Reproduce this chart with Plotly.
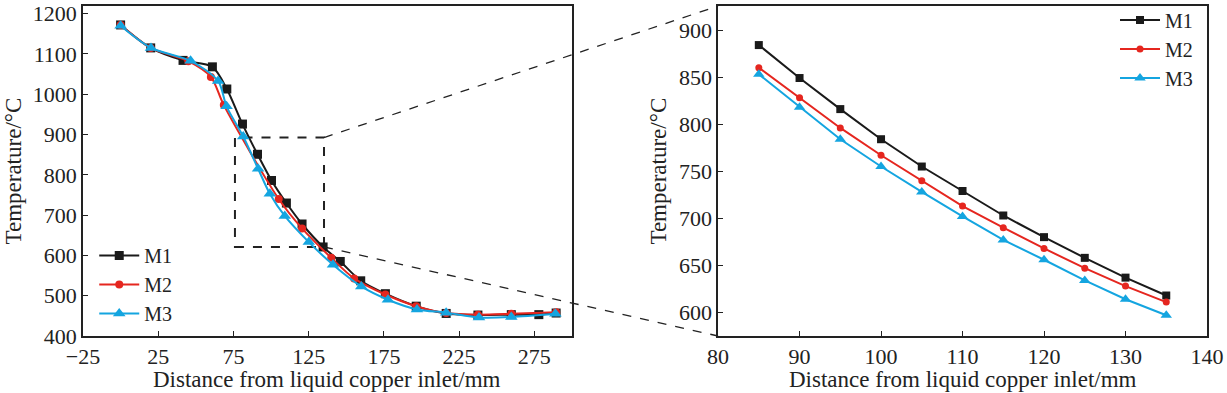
import plotly.graph_objects as go

# ---------------- data: left panel (full profile) ----------------
m1_x = [0, 20, 41.5, 61, 70.6, 81, 91, 100.3, 110.2, 120.6, 134.6, 146, 159.6, 176, 196.5, 216.4, 237.5, 259.7, 278, 289.5]
m1_y = [1172, 1115, 1084, 1068, 1013, 926, 851, 786, 730, 678, 621, 585, 537, 505, 474, 456, 452, 453, 453, 457]

m2_x = [0, 20, 45, 60, 68.6, 105.1, 120.6, 140, 155.2, 176, 196.5, 216.4, 237.5, 259.7, 289.5]
m2_y = [1172, 1115, 1082, 1043, 973, 740, 667, 594, 543, 503, 474, 457, 453, 455, 459]

m3_x = [0, 20.2, 46.5, 64.8, 70.4, 81.5, 91.4, 99.2, 109.1, 125.1, 141.2, 160, 177.7, 197, 216.4, 238.2, 259.7, 289]
m3_y = [1170, 1115, 1083, 1033, 970, 895, 815, 753, 698, 633, 577, 523, 490, 466, 458, 446, 447, 455]

# ---------------- data: right panel (zoomed 85-135 mm) ----------------
zoom_x = [85, 90, 95, 100, 105, 110, 115, 120, 125, 130, 135]
z_m1 = [884, 849, 816, 784, 755, 729, 703, 680, 658, 637, 618]
z_m2 = [860, 828, 796, 767, 740, 713, 690, 668, 647, 628, 611]
z_m3 = [853, 818, 784, 755, 728, 702, 677, 656, 634, 614, 597]

series_names = ["M1", "M2", "M3"]
colors = ["#1a1a1a", "#e5261f", "#14a5e0"]
symbols = ["square", "circle", "triangle-up"]
msizes = [9, 8, 11]

# zoom window (in left-panel data coords)
box_x = [76, 135.2]
box_y = [620.9, 892.5]

# axis settings
left_xrange = [-25, 300]
left_yrange = [400, 1219]
right_xrange = [80, 140]
right_yrange = [575, 925.5]
left_dom = [0, 0.435]
right_dom = [0.565, 1]

FONT = "Liberation Serif"
TXT = "#222222"
X_TITLE = "Distance from liquid copper inlet/mm"
Y_TITLE = "Temperature/\u00b0C"

fig = go.Figure()

left_sets = [(m1_x, m1_y), (m2_x, m2_y), (m3_x, m3_y)]
for i, (xs, ys) in enumerate(left_sets):
    fig.add_trace(go.Scatter(
        x=xs, y=ys, name=series_names[i], mode="lines+markers",
        line=dict(color=colors[i], width=2, shape="spline", smoothing=0.8),
        marker=dict(symbol=symbols[i], size=msizes[i], color=colors[i]),
        xaxis="x", yaxis="y", legend="legend"))

right_sets = [z_m1, z_m2, z_m3]
for i, ys in enumerate(right_sets):
    fig.add_trace(go.Scatter(
        x=zoom_x, y=ys, name=series_names[i], mode="lines+markers",
        line=dict(color=colors[i], width=2),
        marker=dict(symbol=symbols[i], size=msizes[i] - 1, color=colors[i]),
        xaxis="x2", yaxis="y2", legend="legend2"))

axis_common = dict(
    showline=True, linecolor="#222", linewidth=1.5, mirror=True,
    ticks="inside", ticklen=5, tickwidth=1.2, tickcolor="#222",
    showgrid=False, zeroline=False, automargin=False,
    ticklabeloverflow="allow",
    tickfont=dict(family=FONT, size=22, color=TXT),
)

fig.update_layout(
    width=1227, height=393,
    margin=dict(l=83, r=20, t=6, b=57, autoexpand=False),
    paper_bgcolor="white", plot_bgcolor="white",
    xaxis=dict(domain=left_dom, range=left_xrange, tick0=-25, dtick=50,
               anchor="y", **axis_common),
    yaxis=dict(range=left_yrange, tick0=400, dtick=100,
               anchor="x", **axis_common),
    xaxis2=dict(domain=right_dom, range=right_xrange, tick0=80, dtick=10,
                anchor="y2", **axis_common),
    yaxis2=dict(range=right_yrange, tick0=600, dtick=50,
                anchor="x2", **axis_common),
    legend=dict(x=0.01, y=0.303, xanchor="left", yanchor="top",
                font=dict(family=FONT, size=20, color=TXT),
                bgcolor="rgba(0,0,0,0)", itemwidth=40, tracegroupgap=0),
    legend2=dict(x=0.992, y=1.017, xanchor="right", yanchor="top",
                 font=dict(family=FONT, size=20, color=TXT),
                 bgcolor="rgba(0,0,0,0)", itemwidth=40, tracegroupgap=0),
    showlegend=True,
)

title_font = dict(family=FONT, size=23, color=TXT)
for dom, yshift_left in ((left_dom, -56), (right_dom, -46)):
    fig.add_annotation(text=X_TITLE, xref="paper", yref="paper",
                       x=(dom[0] + dom[1]) / 2, y=0, xanchor="center", yanchor="top",
                       yshift=-29, showarrow=False, font=title_font)
    fig.add_annotation(text=Y_TITLE, xref="paper", yref="paper",
                       x=dom[0], y=0.5, xanchor="right", yanchor="middle",
                       xshift=yshift_left, showarrow=False,
                       textangle=-90, font=title_font)

# dashed zoom box in the left panel
fig.add_shape(type="rect", xref="x", yref="y",
              x0=box_x[0], x1=box_x[1], y0=box_y[0], y1=box_y[1],
              line=dict(color="#222", width=2, dash="dash"), layer="below")


def to_paper_x(v):
    return left_dom[0] + (v - left_xrange[0]) / (left_xrange[1] - left_xrange[0]) * (left_dom[1] - left_dom[0])


def to_paper_y(v):
    return (v - left_yrange[0]) / (left_yrange[1] - left_yrange[0])


# connector lines from box corners to the right panel corners
fig.add_shape(type="line", xref="paper", yref="paper",
              x0=to_paper_x(box_x[1]), y0=to_paper_y(box_y[1]),
              x1=right_dom[0], y1=1,
              line=dict(color="#222", width=1.3, dash="dash"))
fig.add_shape(type="line", xref="paper", yref="paper",
              x0=to_paper_x(box_x[1]), y0=to_paper_y(box_y[0]),
              x1=right_dom[0], y1=0,
              line=dict(color="#222", width=1.3, dash="dash"))

fig.write_html("out.html", config={"displayModeBar": False},
               post_script="document.body.style.margin='0';document.body.style.overflow='hidden';")
